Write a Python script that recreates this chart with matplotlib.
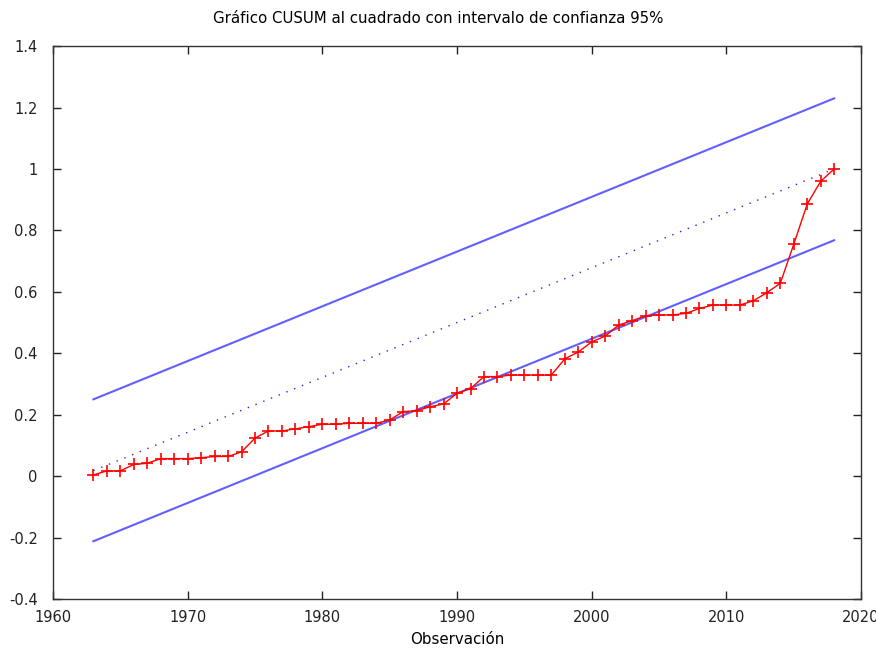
import matplotlib
matplotlib.use("Agg")
import matplotlib.pyplot as plt
import numpy as np

# Observation years and the CUSUM of squares statistic
years = np.arange(1963, 2019)
cusumsq = [0.004, 0.017, 0.017, 0.038, 0.042, 0.057, 0.057, 0.057, 0.060, 0.064,
           0.064, 0.079, 0.124, 0.147, 0.147, 0.154, 0.161, 0.169, 0.169, 0.172,
           0.172, 0.172, 0.183, 0.210, 0.213, 0.226, 0.235, 0.270, 0.285, 0.324,
           0.324, 0.329, 0.329, 0.329, 0.329, 0.382, 0.404, 0.437, 0.456, 0.492,
           0.506, 0.522, 0.525, 0.525, 0.530, 0.546, 0.557, 0.557, 0.557, 0.571,
           0.597, 0.628, 0.755, 0.886, 0.960, 1.000]

# 95% band and expected path (straight lines between the end observations)
band_years = [1963, 2018]
upper = [0.250, 1.230]
lower = [-0.212, 0.768]
expected = [0.018, 1.000]

fig = plt.figure(figsize=(8.76, 6.5), dpi=100)
ax = fig.add_axes([0.0605, 0.0785, 0.9225, 0.8505])

blue = "#6060ff"
ax.plot(band_years, upper, color=blue, lw=1.5)
ax.plot(band_years, lower, color=blue, lw=1.5)
ax.plot(band_years, expected, color="#2020ff", lw=1.0, ls=(0, (1, 5)))
ax.plot(years, cusumsq, color="#ff0000", lw=1.0, marker="+", ms=9, mew=1.2)

ax.set_xlim(1960, 2020)
ax.set_ylim(-0.4, 1.4)
ax.set_xticks(np.arange(1960, 2021, 10))
ax.set_yticks(np.arange(-0.4, 1.41, 0.2))
ax.set_yticklabels(["%g" % round(v, 1) for v in np.arange(-0.4, 1.41, 0.2)])

ax.tick_params(direction="in", length=6, width=1, top=True, right=True,
               labelsize=10.5, colors="#222222")
ax.tick_params(axis="x", pad=8)
ax.tick_params(axis="y", pad=11)
for s in ax.spines.values():
    s.set_color("#333333")
    s.set_linewidth(1.0)

ax.set_xlabel("Observación", fontsize=10.8, labelpad=5)
fig.text(0.5, 0.972, "Gráfico CUSUM al cuadrado con intervalo de confianza 95%",
         ha="center", va="center", fontsize=10.8)

fig.savefig("out.png", dpi=100)
